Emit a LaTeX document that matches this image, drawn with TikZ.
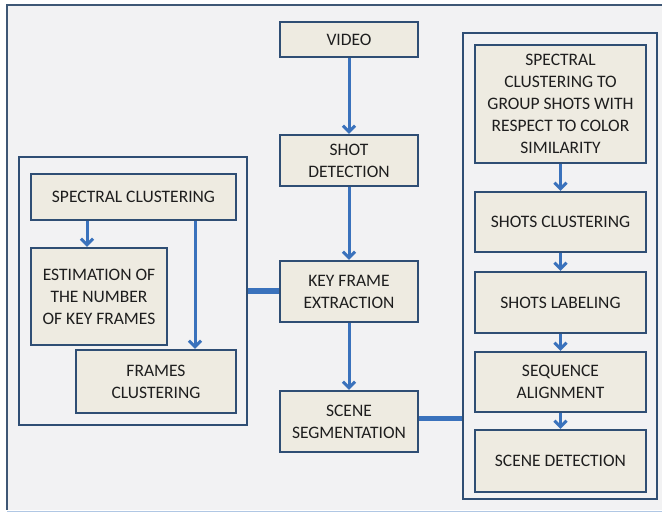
\documentclass[tikz,border=0pt]{standalone}
\usepackage{fontspec}
\setmainfont{Carlito}
\usetikzlibrary{arrows.meta,calc}
\definecolor{boxfill}{HTML}{EEEBE1}
\definecolor{boxline}{HTML}{2F4E74}
\definecolor{arrblue}{HTML}{3A72BC}
\definecolor{bgray}{HTML}{F2F2F3}
\definecolor{txt}{HTML}{1E1E1E}
\definecolor{frameline}{HTML}{3E5775}
\tikzset{
  box/.style={draw=boxline, fill=boxfill, line width=2.3pt, inner sep=0pt, align=center,
    font=\fontsize{17.5}{22}\selectfont, text=txt},
  grp/.style={draw=boxline, line width=2pt, inner sep=0pt},
  arr/.style={draw=arrblue, line width=3pt, -{Straight Barb[length=6pt,width=12pt]}},
  thick link/.style={draw=arrblue, line width=5.5pt},
}
\begin{document}
\begin{tikzpicture}[x=1pt,y=-1pt]
\useasboundingbox (0,0) rectangle (662,514);
\fill[white] (0,0) rectangle (662,514);
\fill[bgray] (7,5) rectangle (662,510);
\draw[frameline, line width=2.5pt] (662,5) -- (7,5) -- (7,510);
\draw[arrblue!40, line width=1pt] (7,511) -- (662,511);
% group frames
\node[grp, minimum width=228pt, minimum height=268pt] (lf) at (133,291) {};
\node[grp, minimum width=194pt, minimum height=466pt] (rf) at (560,266) {};
% central column
\node[box, minimum width=138pt, minimum height=35pt] (video) at (349,39.5) {VIDEO};
\node[box, minimum width=138pt, minimum height=51pt] (shot) at (349,160.5) {SHOT\\DETECTION};
\node[box, minimum width=138pt, minimum height=61pt] (key) at (349,291.5) {KEY FRAME\\EXTRACTION};
\node[box, minimum width=138pt, minimum height=61pt] (scene) at (349,421.5) {SCENE\\SEGMENTATION};
% left group
\node[box, minimum width=205pt, minimum height=46pt] (sc) at (133.5,197) {SPECTRAL CLUSTERING};
\node[box, minimum width=136pt, minimum height=97pt] (est) at (99,296.5) {ESTIMATION OF\\THE NUMBER\\OF KEY FRAMES};
\node[box, minimum width=160pt, minimum height=63pt] (fc) at (156,381.5) {FRAMES\\CLUSTERING};
% right group
\node[box, minimum width=171pt, minimum height=118pt] (spec) at (560.5,104) {SPECTRAL\\CLUSTERING TO\\GROUP SHOTS WITH\\RESPECT TO COLOR\\SIMILARITY};
\node[box, minimum width=171pt, minimum height=60pt] (shc) at (560.5,222) {SHOTS CLUSTERING};
\node[box, minimum width=171pt, minimum height=61pt] (shl) at (560.5,302.5) {SHOTS LABELING};
\node[box, minimum width=171pt, minimum height=60pt] (seq) at (560.5,382) {SEQUENCE\\ALIGNMENT};
\node[box, minimum width=171pt, minimum height=62pt] (sd) at (560.5,461) {SCENE DETECTION};
% helper coordinates
\coordinate (xa) at (87,0);
\coordinate (xb) at (195,0);
% arrows
\draw[arr] (video) -- (shot);
\draw[arr] (shot) -- (key);
\draw[arr] (key) -- (scene);
\draw[arr] (sc.south -| xa) -- (est.north -| xa);
\draw[arr] (sc.south -| xb) -- (fc.north -| xb);
\draw[arr] (spec) -- (shc);
\draw[arr] (shc) -- (shl);
\draw[arr] (shl) -- (seq);
\draw[arr] (seq) -- (sd);
% thick links
\draw[thick link] (lf.east) -- (lf.east -| key.west);
\draw[thick link] ($(scene.east)+(0,-3)$) -- ($(scene.east -| rf.west)+(0,-3)$);
\end{tikzpicture}
\end{document}
